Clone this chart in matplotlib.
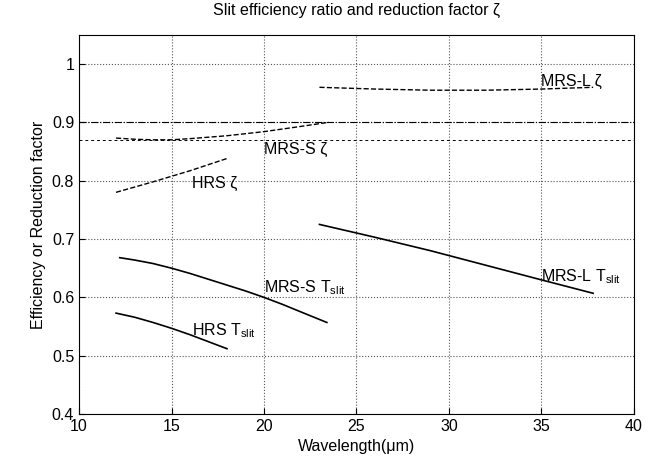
import matplotlib.pyplot as plt
import numpy as np

hrs_t_x = [12, 13, 14, 15, 16, 17, 18]
hrs_t_y = [0.573, 0.566, 0.557, 0.547, 0.536, 0.524, 0.512]
mrss_t_x = [12.2, 13, 14, 15, 16, 17, 18, 19, 20, 21, 22, 23.4]
mrss_t_y = [0.668, 0.664, 0.658, 0.650, 0.641, 0.631, 0.621, 0.611, 0.600, 0.588, 0.575, 0.557]
mrsl_t_x = [23, 26, 29, 32, 35, 37.8]
mrsl_t_y = [0.725, 0.703, 0.680, 0.655, 0.630, 0.607]

hrs_z_x = [12, 14, 16, 18]
hrs_z_y = [0.780, 0.798, 0.817, 0.838]
mrss_z_x = [12, 13, 14, 15, 16, 18, 20, 22, 23.5]
mrss_z_y = [0.873, 0.871, 0.870, 0.870, 0.872, 0.877, 0.884, 0.893, 0.900]
mrsl_z_x = [23, 26, 29, 30, 32, 35, 37.8]
mrsl_z_y = [0.960, 0.957, 0.955, 0.955, 0.955, 0.957, 0.960]

plt.rcParams['font.family'] = ['Liberation Sans', 'DejaVu Sans']
plt.rcParams['font.size'] = 11.5

fig = plt.figure(figsize=(6.7, 4.7), dpi=100)
ax = fig.add_axes([0.118, 0.119, 0.828, 0.807])

ax.axhline(0.9, color='k', ls='-.', lw=0.8)
ax.axhline(0.87, color='k', ls=(0, (3, 3)), lw=0.7)

ax.plot(hrs_t_x, hrs_t_y, 'k-', lw=1.2)
ax.plot(mrss_t_x, mrss_t_y, 'k-', lw=1.2)
ax.plot(mrsl_t_x, mrsl_t_y, 'k-', lw=1.2)
ax.plot(hrs_z_x, hrs_z_y, 'k--', lw=1.0)
ax.plot(mrss_z_x, mrss_z_y, 'k--', lw=1.0)
ax.plot(mrsl_z_x, mrsl_z_y, 'k--', lw=1.0)

ax.text(35, 0.962, 'MRS-L ζ')
ax.text(20, 0.845, 'MRS-S ζ')
ax.text(16.1, 0.788, 'HRS ζ')
ax.text(20, 0.608, r'MRS-S T$_{\mathregular{slit}}$')
ax.text(16.1, 0.535, r'HRS T$_{\mathregular{slit}}$')
ax.text(35, 0.627, r'MRS-L T$_{\mathregular{slit}}$')

ax.set_xlim(10, 40)
ax.set_ylim(0.4, 1.05)
ax.set_yticks([0.4, 0.5, 0.6, 0.7, 0.8, 0.9, 1.0])
ax.set_yticklabels(['0.4', '0.5', '0.6', '0.7', '0.8', '0.9', '1'])
ax.grid(True, color='#555555', ls=':', lw=0.8)
ax.tick_params(direction='in', length=4)
ax.set_xlabel('Wavelength(μm)')
ax.set_ylabel('Efficiency or Reduction factor')
ax.set_title('Slit efficiency ratio and reduction factor ζ', fontsize=11.5, pad=14)

plt.savefig('out.png')
